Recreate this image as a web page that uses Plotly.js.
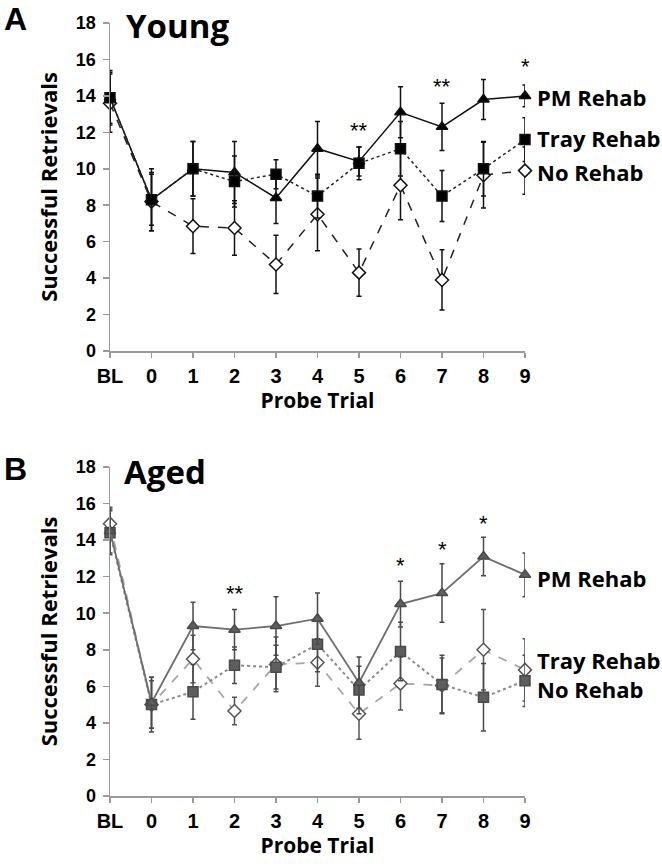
<!DOCTYPE html>
<html>
<head>
<meta charset="utf-8">
<script src="https://cdn.plot.ly/plotly-3.0.1.min.js"></script>
<style>
  html, body { margin: 0; padding: 0; background: #fff; }
  #chart { width: 662px; height: 867px; }
</style>
</head>
<body>
<div id="chart"></div>
<script>
// Probe trials (x categories)
var trials = ['BL', '0', '1', '2', '3', '4', '5', '6', '7', '8', '9'];

// A - Young
var youngPM = [13.9, 8.3, 10.0, 9.8, 8.4, 11.1, 10.4, 13.1, 12.3, 13.8, 14.0];
var youngPMErr = [1.5, 1.7, 1.5, 1.7, 1.4, 1.5, 0.8, 1.4, 1.3, 1.1, 0.6];
var youngTray = [13.9, 8.3, 10.0, 9.3, 9.7, 8.5, 10.3, 11.1, 8.5, 10.0, 11.6];
var youngTrayErr = [1.4, 1.4, 1.5, 1.4, 0.8, 1.2, 0.9, 1.5, 1.4, 1.5, 1.2];
var youngNo = [13.6, 8.2, 6.85, 6.75, 4.75, 7.5, 4.3, 9.1, 3.9, 9.65, 9.9];
var youngNoErr = [1.6, 1.6, 1.5, 1.5, 1.6, 2.0, 1.3, 1.9, 1.65, 1.8, 1.3];
var youngStarTrials = ['5', '7', '9'];
var youngStarY = [12.1, 14.5, 15.6];
var youngStars = ['**', '**', '*'];

// B - Aged
var agedPM = [14.5, 5.1, 9.3, 9.1, 9.3, 9.7, 6.2, 10.5, 11.1, 13.1, 12.1];
var agedPMErr = [1.2, 1.4, 1.3, 1.1, 1.6, 1.4, 1.4, 1.25, 1.6, 1.05, 1.2];
var agedSquare = [14.4, 5.0, 5.7, 7.15, 7.05, 8.3, 5.8, 7.9, 6.1, 5.4, 6.3];
var agedSquareErr = [1.2, 1.5, 1.5, 1.0, 1.2, 1.5, 1.3, 1.6, 1.6, 1.85, 1.4];
var agedDiamond = [14.9, 5.0, 7.5, 4.65, 7.2, 7.3, 4.5, 6.15, 6.05, 8.0, 6.9];
var agedDiamondErr = [0.9, 1.3, 1.3, 0.75, 1.5, 1.3, 1.4, 1.45, 1.5, 2.2, 1.7];
var agedStarTrials = ['2', '6', '7', '8'];
var agedStarY = [11.1, 12.6, 13.5, 14.9];
var agedStars = ['**', '*', '*', '*'];

// group labels at the right, with their heights in each panel
var groupNames = ['PM Rehab', 'Tray Rehab', 'No Rehab'];
var youngLabelY = [13.95, 11.7, 9.8];
var agedLabelY = [11.9, 7.45, 5.85];

function series(y, err, ax, sym, fill, lineCol, dash, errCol, lw) {
    return {
        x: trials, y: y,
        xaxis: ax[0], yaxis: ax[1],
        type: 'scatter', mode: 'lines+markers',
        cliponaxis: false,
        line: { color: lineCol, width: lw, dash: dash },
        marker: { symbol: sym, size: 10, color: fill,
                  line: { color: errCol, width: 1.5 } },
        error_y: { type: 'data', array: err, color: errCol, thickness: 1.5, width: 2.5 },
        showlegend: false
    };
}

var top = ['x', 'y'];
var bot = ['x2', 'y2'];

var data = [
    series(youngNo, youngNoErr, top, 'diamond', '#fff', '#222', 'dash', '#111', 1.5),
    series(youngPM, youngPMErr, top, 'triangle-up', '#000', '#111', 'solid', '#111', 1.5),
    series(youngTray, youngTrayErr, top, 'square', '#000', '#222', 'dot', '#111', 1.5),
    series(agedDiamond, agedDiamondErr, bot, 'diamond', '#fff', '#a6a6a6', 'dash', '#555', 1.8),
    series(agedSquare, agedSquareErr, bot, 'square', '#5e5e5e', '#8a8a8a', 'dot', '#4a4a4a', 2),
    series(agedPM, agedPMErr, bot, 'triangle-up', '#5e5e5e', '#6e6e6e', 'solid', '#4a4a4a', 1.8)
];

var W = 662, H = 867;
var xDom = [110 / W, 525 / W];
var yTopDom = [(H - 351) / H, (H - 23) / H];
var yBotDom = [(H - 796) / H, (H - 467) / H];

var tickFamily = 'Liberation Sans, Arial, sans-serif';
var titleFont = { family: 'Open Sans, sans-serif', size: 21, color: '#000', weight: 'bold' };

function xAxis(dom, anchor) {
    return {
        domain: dom, anchor: anchor, type: 'category',
        range: [0, 10],
        showgrid: false, zeroline: false,
        showline: true, linecolor: '#9a9a9a', linewidth: 1.5,
        ticks: 'outside', ticklen: 5, tickcolor: '#9a9a9a', tickwidth: 1.5,
        tickfont: { family: tickFamily, size: 20, color: '#000', weight: 'bold' },
        ticklabelstandoff: 1,
        title: { text: 'Probe Trial', font: titleFont, standoff: 4 }
    };
}

function yAxis(dom, anchor) {
    return {
        domain: dom, anchor: anchor,
        range: [0, 18], dtick: 2,
        showgrid: false, zeroline: false,
        showline: true, linecolor: '#9a9a9a', linewidth: 1.5,
        ticks: 'outside', ticklen: 6, tickcolor: '#9a9a9a', tickwidth: 1.5,
        tickfont: { family: tickFamily, size: 18, color: '#000', weight: 'bold' },
        ticklabelstandoff: 3,
        title: { text: 'Successful Retrievals', font: { family: titleFont.family, size: 22, color: '#000', weight: 'bold' }, standoff: 12 }
    };
}

var annotations = [];
function txt(x, y, xref, yref, text, size, family, xanchor, weight) {
    annotations.push({
        x: x, y: y, xref: xref, yref: yref, text: text, showarrow: false,
        xanchor: xanchor || 'center', yanchor: 'middle',
        font: { family: family, size: size, color: '#000', weight: weight || 'bold' }
    });
}

txt(2 / W, 1 - 19 / H, 'paper', 'paper', 'A', 32, 'Liberation Sans, Arial', 'left');
txt(124 / W, 1 - 26 / H, 'paper', 'paper', 'Young', 33, 'Open Sans', 'left');
txt(2 / W, 1 - 469 / H, 'paper', 'paper', 'B', 32, 'Liberation Sans, Arial', 'left');
txt(122 / W, 1 - 471 / H, 'paper', 'paper', 'Aged', 33, 'Open Sans', 'left');

for (var i = 0; i < groupNames.length; i++) {
    txt(535 / W, youngLabelY[i], 'paper', 'y', groupNames[i], 22, 'Open Sans', 'left');
    txt(535 / W, agedLabelY[i], 'paper', 'y2', groupNames[i], 22, 'Open Sans', 'left');
}
// asterisks: category axes take the category position
for (var j = 0; j < youngStars.length; j++) {
    txt(trials.indexOf(youngStarTrials[j]), youngStarY[j], 'x', 'y', youngStars[j], 22, 'Liberation Sans, Arial', 'center', 'normal');
}
for (var k = 0; k < agedStars.length; k++) {
    txt(trials.indexOf(agedStarTrials[k]), agedStarY[k], 'x2', 'y2', agedStars[k], 22, 'Liberation Sans, Arial', 'center', 'normal');
}

var layout = {
    width: W, height: H,
    margin: { l: 0, r: 0, t: 0, b: 0 },
    paper_bgcolor: '#fff', plot_bgcolor: '#fff',
    xaxis: xAxis(xDom, 'y'),
    yaxis: yAxis(yTopDom, 'x'),
    xaxis2: xAxis(xDom, 'y2'),
    yaxis2: yAxis(yBotDom, 'x2'),
    annotations: annotations
};

Plotly.newPlot('chart', data, layout, { displayModeBar: false, staticPlot: true });
</script>
</body>
</html>
